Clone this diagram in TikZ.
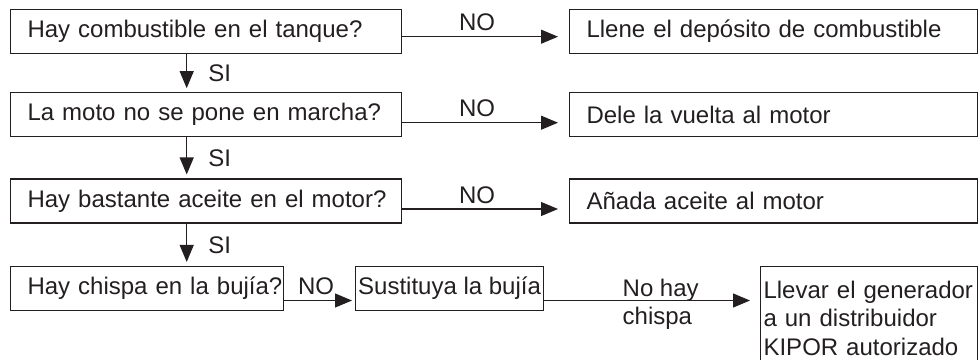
\documentclass[tikz,border=0pt]{standalone}
\usepackage{fontspec}
\setmainfont{Liberation Sans}
\usetikzlibrary{arrows.meta}
\definecolor{ink}{HTML}{231F20}
\tikzset{
  box/.style={draw=ink, text=ink, line width=0.55pt, minimum height=22pt, inner ysep=0pt, font=\fontsize{12}{14.25}\selectfont},
  oneline/.style={execute at begin node={\hbox\bgroup}, execute at end node={\egroup}},
  check/.style={box, oneline, anchor=west, inner xsep=8.5pt, align=left, text width=178.35pt},
  action/.style={box, oneline, anchor=west, inner xsep=8.5pt, align=left, text width=187pt},
  flow/.style={-{Triangle[length=8.5pt,width=7pt]}, draw=ink, line width=0.55pt},
  tag/.style={text=ink, font=\fontsize{12}{14.25}\selectfont, inner sep=2.5pt}
}
\begin{document}
\begin{tikzpicture}[x=0.5pt,y=-0.5pt]
  \useasboundingbox (0,0) rectangle (978,359);

  % preguntas
  \node[check] (fuel) at (10,31.3) {Hay combustible en el tanque?};
  \node[check] (start) at (10,114.7) {La moto no se pone en marcha?};
  \node[check] (oil) at (10,201) {Hay bastante aceite en el motor?};
  \node[check, text width=119.5pt] (spark) at (10,288.5) {Hay chispa en la bujía?};

  % acciones
  \node[action] (fill) at (569,31.3) {Llene el depósito de combustible};
  \node[action] (turn) at (569,114.7) {Dele la vuelta al motor};
  \node[action] (addoil) at (569,201) {Añada aceite al motor};
  \node[box, anchor=west, inner xsep=1pt, minimum width=94pt] (plug) at (355,288.5) {Sustituya la bujía};
  \node[box, anchor=north west, inner xsep=1.5pt, minimum height=51.5pt, align=left, text width=105.5pt] (dealer) at (760,266)
    {Llevar el generador\\a un distribuidor\\KIPOR autorizado};

  \draw[flow, shorten >=5.5pt] ([yshift=-2.7pt]fuel.east) -- node[tag, above, pos=0.45]{NO} ([yshift=-2.7pt]fill.west);
  \draw[flow, shorten >=5.5pt] ([yshift=-4pt]start.east) -- node[tag, above, pos=0.45]{NO} ([yshift=-4pt]turn.west);
  \draw[flow, shorten >=5.5pt] ([yshift=-4pt]oil.east) -- node[tag, above, pos=0.45]{NO} ([yshift=-4pt]addoil.west);
  \draw[flow, shorten >=1.5pt] ([yshift=-6pt]spark.east) -- node[tag, above, pos=0.45]{NO} ([yshift=-6pt]plug.west);
  \draw[flow, shorten >=5pt] ([yshift=-6pt]plug.east) -- node[tag, pos=0.54, yshift=-2pt, align=left]{No hay\\chispa} ([yshift=-6pt]plug.east -| dealer.west);

  \draw[flow, shorten >=2pt] ([xshift=88.35pt]fuel.south west) -- node[tag, right, xshift=8pt]{SI} ([xshift=88.35pt]start.north west);
  \draw[flow, shorten >=2pt] ([xshift=88.35pt]start.south west) -- node[tag, right, xshift=8pt]{SI} ([xshift=88.35pt]oil.north west);
  \draw[flow, shorten >=2pt] ([xshift=88.35pt]oil.south west) -- node[tag, right, xshift=8pt]{SI} ([xshift=88.35pt]spark.north west);
\end{tikzpicture}
\end{document}
